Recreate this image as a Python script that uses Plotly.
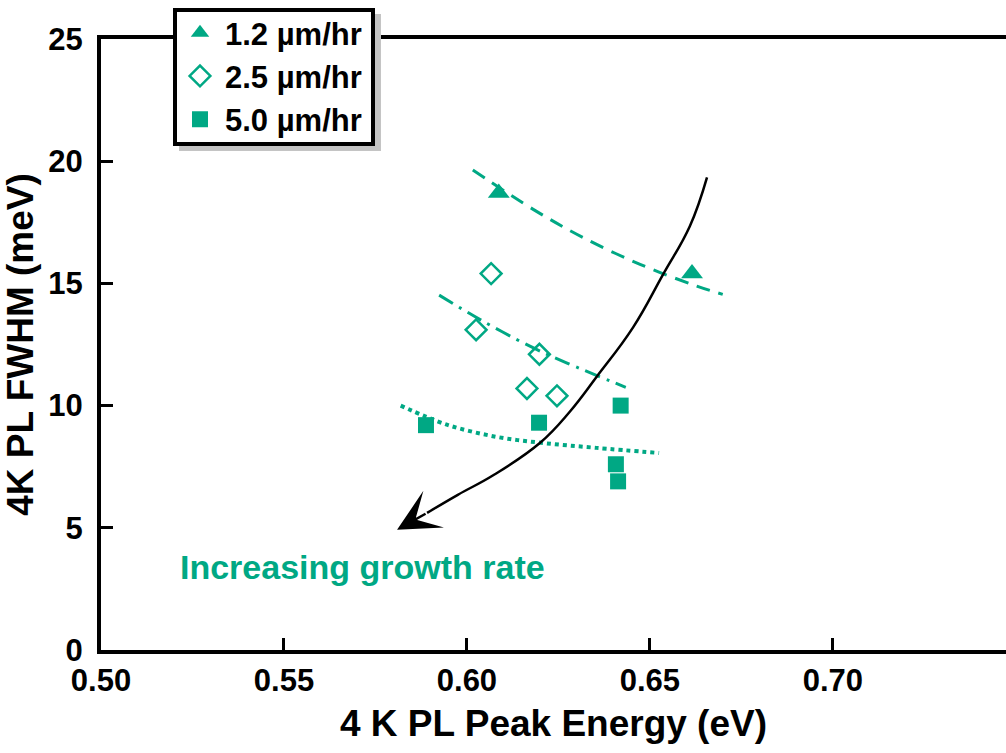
import plotly.graph_objects as go

# ---- data ----
x_12 = [0.6087, 0.6615]
y_12 = [18.7, 15.4]

x_25 = [0.6066, 0.6025, 0.6198, 0.6164, 0.6246]
y_25 = [15.4, 13.1, 12.1, 10.7, 10.4]

x_50 = [0.5888, 0.6197, 0.6420, 0.6407, 0.6413]
y_50 = [9.2, 9.3, 10.0, 7.6, 6.9]

# guide curves
fit12_x = [0.6016, 0.6181, 0.6318, 0.6473, 0.6628, 0.6699]
fit12_y = [19.64, 18.03, 16.87, 15.78, 14.89, 14.55]

fit25_x = [0.5924, 0.6036, 0.6172, 0.6272, 0.6434]
fit25_y = [14.52, 13.52, 12.43, 11.75, 10.75]

fit50_x = [0.5819, 0.5945, 0.6081, 0.6208, 0.6354, 0.6525]
fit50_y = [10.0, 9.22, 8.72, 8.47, 8.27, 8.06]

arrow_x = [0.6656, 0.6609, 0.6536, 0.6454, 0.6355, 0.6281, 0.6200, 0.6074, 0.5975, 0.5891]
arrow_y = [19.34, 17.34, 15.37, 13.20, 11.19, 9.75, 8.48, 7.17, 6.35, 5.61]
arrow_tip = (0.5809, 4.92)

x_ticks = [0.50, 0.55, 0.60, 0.65, 0.70]
x_ticklabels = ["0.50", "0.55", "0.60", "0.65", "0.70"]
y_ticks = [0, 5, 10, 15, 20, 25]

TEAL = "#00A884"
FONT = "Liberation Sans, Arial, sans-serif"

fig = go.Figure()

# guide curves
fig.add_trace(go.Scatter(x=fit12_x, y=fit12_y, mode="lines", showlegend=False,
                         line=dict(color=TEAL, width=3, dash="14px,9px", shape="spline")))
fig.add_trace(go.Scatter(x=fit25_x, y=fit25_y, mode="lines", showlegend=False,
                         line=dict(color=TEAL, width=3, dash="16px,7px,3px,7px", shape="spline")))
fig.add_trace(go.Scatter(x=fit50_x, y=fit50_y, mode="lines", showlegend=False,
                         line=dict(color=TEAL, width=4, dash="dot", shape="spline")))

# arrow curve
fig.add_trace(go.Scatter(x=arrow_x, y=arrow_y, mode="lines", showlegend=False,
                         line=dict(color="black", width=2.5, shape="spline", smoothing=1.2)))

# data
fig.add_trace(go.Scatter(x=x_12, y=y_12, mode="markers", name="1.2 µm/hr",
                         marker=dict(symbol="triangle-up", size=19, color=TEAL)))
fig.add_trace(go.Scatter(x=x_25, y=y_25, mode="markers", name="2.5 µm/hr",
                         marker=dict(symbol="diamond-open", size=16, color=TEAL,
                                     line=dict(width=2.5, color=TEAL))))
fig.add_trace(go.Scatter(x=x_50, y=y_50, mode="markers", name="5.0 µm/hr",
                         marker=dict(symbol="square", size=16, color=TEAL)))

# arrow head
fig.add_annotation(x=arrow_tip[0], y=arrow_tip[1], ax=arrow_x[-1], ay=arrow_y[-1],
                   xref="x", yref="y", axref="x", ayref="y", text="",
                   showarrow=True, arrowhead=3, arrowsize=2.8, arrowwidth=2.5,
                   arrowcolor="black", standoff=0)

fig.add_annotation(x=0.5715, y=3.4, xref="x", yref="y", text="Increasing growth rate",
                   showarrow=False, font=dict(family=FONT, size=34, color=TEAL, weight="bold"))

# legend frame: grey drop shadow, then white box with black border
fig.add_shape(type="rect", xref="paper", yref="paper",
              x0=(179 - 101) / 905, x1=(381 - 101) / 905,
              y0=(650 - 151) / 611, y1=(650 - 14) / 611,
              fillcolor="#c4c4c4", line=dict(width=0), layer="above")
fig.add_shape(type="rect", xref="paper", yref="paper",
              x0=(175 - 101) / 905, x1=(373 - 101) / 905,
              y0=(650 - 144) / 611, y1=(650 - 10) / 611,
              fillcolor="white", line=dict(width=4, color="black"), layer="above")

fig.update_layout(
    width=1006, height=753,
    margin=dict(l=101, r=0, t=39, b=103),
    paper_bgcolor="white", plot_bgcolor="white",
    font=dict(family=FONT, color="black"),
    legend=dict(x=(175 - 101) / 905, y=(650 - 6) / 611, xanchor="left", yanchor="top",
                bgcolor="rgba(0,0,0,0)", borderwidth=0,
                font=dict(family=FONT, size=31, color="black", weight="bold"),
                itemsizing="trace", itemwidth=40),
)

fig.update_xaxes(range=[0.5, 0.7473], tickvals=x_ticks, ticktext=x_ticklabels,
                 showgrid=False, zeroline=False,
                 showline=True, linewidth=4, linecolor="black", mirror=True,
                 ticks="inside", ticklen=12, tickwidth=3, tickcolor="black",
                 tickfont=dict(family=FONT, size=31, weight="bold"),
                 title=dict(text="4 K PL Peak Energy (eV)", standoff=14,
                            font=dict(family=FONT, size=37, weight="bold")))
fig.update_yaxes(range=[0, 25], tickvals=y_ticks,
                 showgrid=False, zeroline=False,
                 showline=True, linewidth=4, linecolor="black", mirror=False,
                 ticks="inside", ticklen=12, tickwidth=3, tickcolor="black",
                 ticklabelstandoff=8,
                 tickfont=dict(family=FONT, size=31, weight="bold"),
                 title=dict(text="4K PL FWHM (meV)", standoff=8,
                            font=dict(family=FONT, size=37, weight="bold")))

fig.write_html("out.html")
